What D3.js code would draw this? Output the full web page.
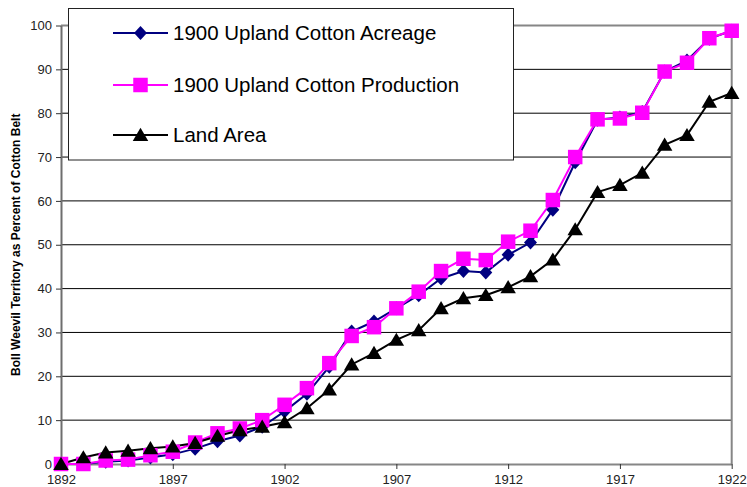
<!DOCTYPE html>
<html>
<head>
<meta charset="utf-8">
<script src="https://cdn.jsdelivr.net/npm/d3@7"></script>
<style>
  body { margin: 0; background: #fff; }
  svg { display: block; font-family: "Liberation Sans", Arial, sans-serif; }
</style>
</head>
<body>
<div id="chart-area"></div>
<script>

// years on the x axis
var years = d3.range(1892, 1923);

// percent of cotton belt
var acreage = [0, 0, 0.5, 0.8, 1.5, 2.2, 3.5, 5.2, 6.5, 8.5, 12, 16, 22.2, 30.2, 32.5, 35.5,
  38.5, 42.3, 44, 43.7, 47.7, 50.5, 58, 68.8, 78.5, 79, 80.3, 89.5, 92, 97, 98.8];

var production = [0, 0, 0.8, 1, 2, 2.8, 4.9, 7, 8.1, 10, 13.5, 17.3, 23, 29.2, 31.2, 35.5,
  39.3, 44, 46.8, 46.5, 50.7, 53.2, 60.2, 70, 78.6, 78.8, 80.1, 89.5, 91.5, 97.1, 98.8];

var landArea = [0, 1.5, 2.6, 3, 3.6, 4, 4.8, 6.4, 7.7, 8.5, 9.5, 12.7, 17, 22.7, 25.3, 28.3,
  30.5, 35.5, 37.8, 38.5, 40.3, 42.8, 46.6, 53.5, 62, 63.6, 66.4, 72.8, 75, 82.6, 84.6];

var seriesNames = ["1900 Upland Cotton Acreage", "1900 Upland Cotton Production", "Land Area"];
var xTicks = [1892, 1897, 1902, 1907, 1912, 1917, 1922];
var yTicks = [0, 10, 20, 30, 40, 50, 60, 70, 80, 90, 100];

var width = 747, height = 487;

var svg = d3.select("#chart-area").append("svg")
    .attr("width", width)
    .attr("height", height);

var x = d3.scaleLinear().domain([1892, 1922]).range([61, 731.7]);
var y = d3.scaleLinear().domain([0, 100]).range([464, 25.5]);

// custom marker shapes (size = width in px)
var diamond = {
  draw: function(ctx, s) {
    var w = s / 2, h = s / 2 + 0.5;
    ctx.moveTo(0, -h); ctx.lineTo(w, 0); ctx.lineTo(0, h); ctx.lineTo(-w, 0); ctx.closePath();
  }
};
var square = {
  draw: function(ctx, s) {
    var h = s / 2;
    ctx.moveTo(-h, -h); ctx.lineTo(h, -h); ctx.lineTo(h, h); ctx.lineTo(-h, h); ctx.closePath();
  }
};
var triangle = {
  draw: function(ctx, s) {
    var w = s / 2, hh = s * 0.85;
    ctx.moveTo(0, -hh * 0.55); ctx.lineTo(w, hh * 0.45); ctx.lineTo(-w, hh * 0.45); ctx.closePath();
  }
};

var series = [
  { name: seriesNames[0], values: acreage, color: "#000080", shape: diamond, size: 13 },
  { name: seriesNames[1], values: production, color: "#ff00ff", shape: square, size: 14.5 },
  { name: seriesNames[2], values: landArea, color: "#000000", shape: triangle, size: 15.5 }
];

// gridlines
svg.append("g")
  .selectAll("line")
  .data(yTicks.filter(function(d) { return d > 0 && d < 100; }))
  .enter().append("line")
    .attr("x1", x(1892)).attr("x2", x(1922))
    .attr("y1", function(d) { return y(d); })
    .attr("y2", function(d) { return y(d); })
    .attr("stroke", "#000")
    .attr("stroke-width", 1);

// plot frame (top + right)
svg.append("path")
  .attr("d", "M" + x(1892) + "," + y(100) + "H" + x(1922) + "V" + y(0))
  .attr("fill", "none")
  .attr("stroke", "#868686")
  .attr("stroke-width", 2);

// y axis
var yAxis = d3.axisLeft(y).tickValues(yTicks).tickSize(5).tickPadding(4).tickSizeOuter(0);
var yg = svg.append("g")
  .attr("transform", "translate(" + x(1892) + ",0)")
  .call(yAxis);
yg.select(".domain").attr("stroke", "#6e6e6e").attr("stroke-width", 2);
yg.selectAll(".tick line").attr("stroke", "#333");
yg.selectAll(".tick text")
  .style("font-size", "13px")
  .style("font-family", "'Liberation Sans', Arial, sans-serif")
  .attr("fill", "#222");

// x axis
var xAxis = d3.axisBottom(x).tickValues(xTicks).tickFormat(d3.format("d")).tickSize(5).tickPadding(6).tickSizeOuter(0);
var xg = svg.append("g")
  .attr("transform", "translate(0," + y(0) + ")")
  .call(xAxis);
xg.select(".domain").attr("stroke", "#868686").attr("stroke-width", 2);
xg.selectAll(".tick line").attr("stroke", "#333");
xg.selectAll(".tick text")
  .style("font-size", "13px")
  .style("font-family", "'Liberation Sans', Arial, sans-serif")
  .attr("fill", "#222");

// y axis title
svg.append("text")
  .attr("transform", "translate(20," + ((y(0) + y(100)) / 2) + ") rotate(-90)")
  .attr("text-anchor", "middle")
  .style("font-size", "12px")
  .attr("font-weight", "bold")
  .attr("fill", "#000")
  .text("Boll Weevil Territory as Percent of Cotton Belt");

// series lines and markers
var line = d3.line()
  .x(function(d, i) { return x(years[i]); })
  .y(function(d) { return y(d); });

series.forEach(function(s) {
  svg.append("path")
    .datum(s.values)
    .attr("d", line)
    .attr("fill", "none")
    .attr("stroke", s.color)
    .attr("stroke-width", 2);
});

series.forEach(function(s) {
  svg.append("g")
    .selectAll("path")
    .data(s.values)
    .enter().append("path")
      .attr("transform", function(d, i) { return "translate(" + x(years[i]) + "," + y(d) + ")"; })
      .attr("d", d3.symbol().type(s.shape).size(s.size))
      .attr("fill", s.color);
});

// legend
var legend = svg.append("g");
legend.append("rect")
  .attr("x", 68.5).attr("y", 8.5)
  .attr("width", 445).attr("height", 151.5)
  .attr("fill", "#fff")
  .attr("stroke", "#222")
  .attr("stroke-width", 1);

var legendY = [33, 85, 135];
series.forEach(function(s, i) {
  var g = legend.append("g").attr("transform", "translate(0," + legendY[i] + ")");
  g.append("line")
    .attr("x1", 113).attr("x2", 168)
    .attr("stroke", s.color)
    .attr("stroke-width", 2);
  g.append("path")
    .attr("transform", "translate(140.5,0)")
    .attr("d", d3.symbol().type(s.shape).size(s.size))
    .attr("fill", s.color);
  g.append("text")
    .attr("x", 173)
    .attr("dy", "0.36em")
    .style("font-size", "20.5px")
    .attr("fill", "#000")
    .text(s.name);
});

</script>
</body>
</html>
